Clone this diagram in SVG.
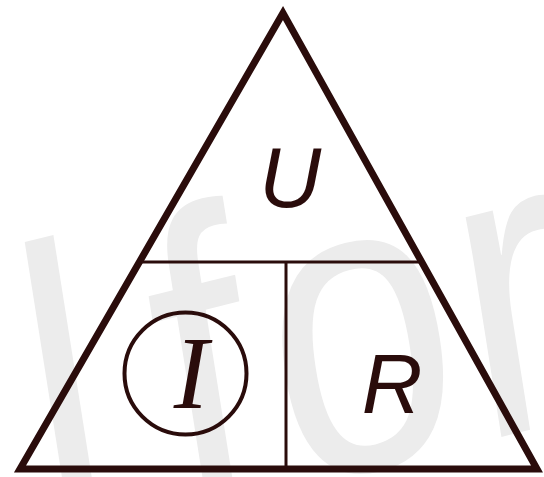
<svg xmlns="http://www.w3.org/2000/svg" width="544" height="477" viewBox="0 0 544 477">
  <style>
    .ln { fill: none; stroke: #2a0c0b; }
    .sans { font-family: "Liberation Sans", Arial, sans-serif; font-style: italic; fill: #2a0c0b; text-anchor: middle; }
    .serif { font-family: "Liberation Serif", "Times New Roman", serif; font-style: italic; fill: #2a0c0b; text-anchor: middle; }
    .wm { font-family: "Liberation Sans", Arial, sans-serif; fill: #ececec; text-anchor: middle; }
  </style>
  <rect width="544" height="477" fill="#ffffff"/>
  <g id="watermark" transform="rotate(-14 363 356)">
    <text class="wm" font-size="420" transform="translate(0 468) skewX(-5) scale(0.8 1)" x="63 240 441 638" y="0 0 0 0">lfor</text>
  </g>
  <g id="connectors">
    <polygon class="ln" stroke-width="7" stroke-linejoin="miter" points="283,13 20,469 537,469"/>
    <line class="ln" stroke-width="3" x1="140" y1="262" x2="422" y2="262"/>
    <line class="ln" stroke-width="3" x1="286" y1="262" x2="286" y2="469"/>
  </g>
  <g id="node-U">
    <text class="sans" font-size="86" x="290" y="207">U</text>
  </g>
  <g id="node-I">
    <circle class="ln" stroke-width="4" cx="185.5" cy="373.5" r="61"/>
    <text class="serif" font-size="104" x="191" y="408">I</text>
  </g>
  <g id="node-R">
    <text class="sans" font-size="84" x="392" y="413">R</text>
  </g>
</svg>
